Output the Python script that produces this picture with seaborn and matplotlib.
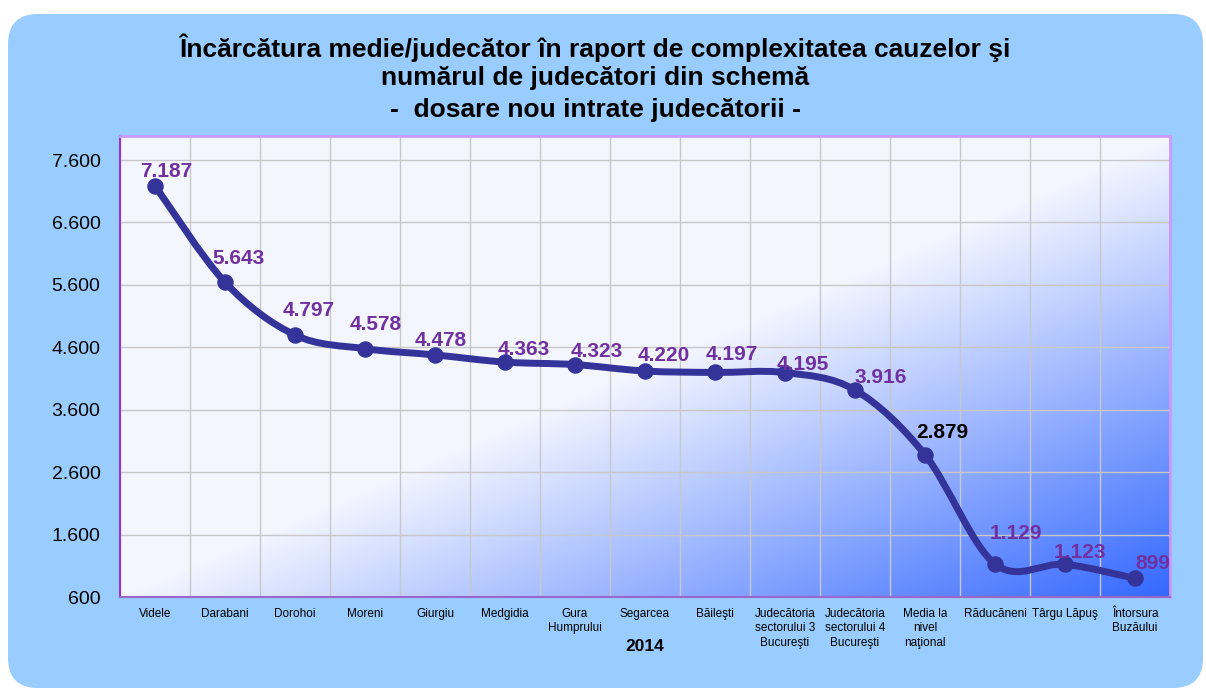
import numpy as np
import matplotlib
matplotlib.use('Agg')
import matplotlib.pyplot as plt
import seaborn as sns
from matplotlib.path import Path
from matplotlib.patches import PathPatch, FancyBboxPatch
from matplotlib.ticker import FuncFormatter

categories = ['Videle', 'Darabani', 'Dorohoi', 'Moreni', 'Giurgiu', 'Medgidia',
              'Gura\nHumprului', 'Segarcea', 'Băileşti',
              'Judecătoria\nsectorului 3\nBucureşti', 'Judecătoria\nsectorului 4\nBucureşti',
              'Media la\nnivel\nnaţional', 'Răducăneni', 'Târgu Lăpuş', 'Întorsura\nBuzăului']
values = [7187, 5643, 4797, 4578, 4478, 4363, 4323, 4220, 4197, 4195, 3916, 2879, 1129, 1123, 899]
y_ticks = [600, 1600, 2600, 3600, 4600, 5600, 6600, 7600]

# label offsets in pixels (right, up), as placed in the original
label_off = [(11, 14), (14, 24), (14, 25), (11, 24), (6, 14), (19, 13), (22, 13), (19, 16),
             (17, 18), (18, 8), (26, 13), (17, 22), (21, 30), (15, 12), (18, 15)]

sns.set_theme(style='white')
plt.rcParams['font.family'] = ['Liberation Sans', 'DejaVu Sans']
plt.rcParams['text.color'] = 'black'
plt.rcParams['axes.labelcolor'] = 'black'
plt.rcParams['xtick.color'] = 'black'
plt.rcParams['ytick.color'] = 'black'


def fmt(v):
    return f'{int(v):,}'.replace(',', '.')


fig = plt.figure(figsize=(12.06, 6.91), dpi=100)
fig.patch.set_facecolor('white')

# rounded light blue panel
panel = FancyBboxPatch((0.08, 0.03), 11.95, 6.74, boxstyle='round,pad=0,rounding_size=0.3',
                       transform=fig.dpi_scale_trans, facecolor='#99CCFF', edgecolor='none', zorder=-10)
fig.patches.append(panel)

ax = fig.add_axes([120 / 1206, 1 - 597 / 691, 1050 / 1206, 461 / 691])

# diagonal gradient background: white above the diagonal, blue toward bottom-right
nx, ny = 400, 200
gx, gy = np.meshgrid(np.linspace(0, 1, nx), np.linspace(1, 0, ny))
s = gx + (1 - gy)
stops = [0.0, 1.0, 2.0]
cols = np.array([[245, 247, 255], [244, 246, 255], [52, 104, 255]]) / 255
img = np.zeros((ny, nx, 3))
for c in range(3):
    img[..., c] = np.interp(s, stops, cols[:, c])
ax.imshow(img, extent=[0, 1, 0, 1], transform=ax.transAxes, aspect='auto', zorder=0)

x = np.arange(len(values))
y = np.array(values, dtype=float)

# smooth curve (Catmull-Rom as Bezier, like Excel smoothing)
verts = [(x[0], y[0])]
codes = [Path.MOVETO]
n = len(x)
for i in range(n - 1):
    p0 = np.array([x[max(i - 1, 0)], y[max(i - 1, 0)]])
    p1 = np.array([x[i], y[i]])
    p2 = np.array([x[i + 1], y[i + 1]])
    p3 = np.array([x[min(i + 2, n - 1)], y[min(i + 2, n - 1)]])
    c1 = p1 + (p2 - p0) / 6
    c2 = p2 - (p3 - p1) / 6
    verts += [tuple(c1), tuple(c2), tuple(p2)]
    codes += [Path.CURVE4] * 3
ax.add_patch(PathPatch(Path(verts, codes), facecolor='none', edgecolor='#333399',
                       lw=5, capstyle='round', joinstyle='round', zorder=3))

sns.scatterplot(x=x, y=y, ax=ax, color='#333399', s=120, edgecolor='#333399', zorder=4)

for i, v in enumerate(values):
    col = 'black' if i == 11 else '#7030A0'
    dx, dy = label_off[i]
    ax.annotate(fmt(v), (x[i], v), xytext=(dx * 0.72, dy * 0.72), textcoords='offset points',
                ha='center', va='center', fontsize=15, fontweight='bold', color=col, zorder=5)

ax.set_xlim(-0.5, n - 0.5)
ax.set_ylim(600, 7985)
ax.set_yticks(y_ticks)
ax.yaxis.set_major_formatter(FuncFormatter(lambda v, p: fmt(v)))
ax.set_xticks(x)
ax.set_xticklabels(categories, fontsize=8.5, linespacing=1.25)
ax.set_xticks(np.arange(-0.5, n, 1), minor=True)
ax.tick_params(axis='x', which='major', length=0, pad=8)
ax.tick_params(axis='x', which='minor', length=5, width=1, direction='out', color='black')
ax.tick_params(axis='y', length=5, width=1, direction='out', color='black', labelsize=14, pad=9)
ax.grid(False)
ax.xaxis.grid(True, which='minor', color='#C8C8C8', lw=1)
ax.yaxis.grid(True, which='major', color='#C8C8C8', lw=1)
ax.set_axisbelow(True)

ax.spines['left'].set_color('#9933CC')
ax.spines['left'].set_linewidth(1.5)
for sp in ['top', 'right']:
    ax.spines[sp].set_color('#CC99FF')
    ax.spines[sp].set_linewidth(2)
ax.spines['bottom'].set_color('#9966CC')
ax.spines['bottom'].set_linewidth(1.5)

ax.set_xlabel('2014', fontsize=12.5, fontweight='bold')
ax.xaxis.set_label_coords(0.5, -(639 - 597) / 461)

fig.text(595 / 1206, 1 - 48 / 691, 'Încărcătura medie/judecător în raport de complexitatea cauzelor şi',
         ha='center', va='center', fontsize=19, fontweight='bold')
fig.text(595 / 1206, 1 - 78 / 691, 'numărul de judecători din schemă',
         ha='center', va='center', fontsize=19, fontweight='bold')
fig.text(595 / 1206, 1 - 110 / 691, '-  dosare nou intrate judecătorii -',
         ha='center', va='center', fontsize=19, fontweight='bold')

fig.savefig('out.png', dpi=100)
